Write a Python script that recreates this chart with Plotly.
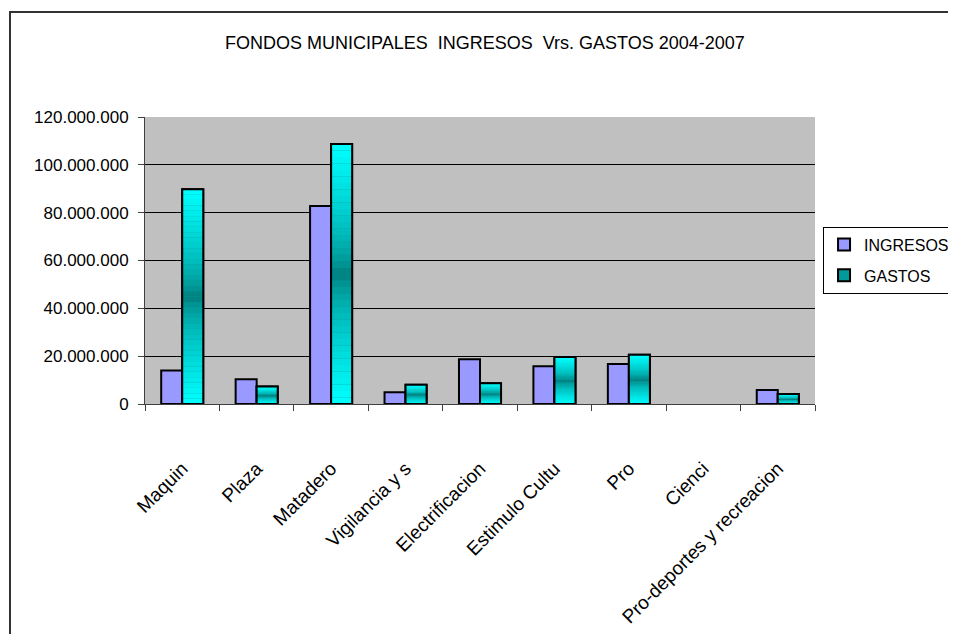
import plotly.graph_objects as go

categories = ["Maquin", "Plaza", "Matadero", "Vigilancia y s", "Electrificacion",
              "Estimulo Cultu", "Pro", "Cienci", "Pro-deportes y recreacion"]
ingresos = [14.0e6, 10.4e6, 82.8e6, 4.9e6, 18.7e6, 15.8e6, 16.7e6, 0, 5.9e6]
gastos = [89.8e6, 7.3e6, 108.7e6, 8.0e6, 8.7e6, 19.7e6, 20.6e6, 0, 4.2e6]
title_text = "FONDOS MUNICIPALES  INGRESOS  Vrs. GASTOS 2004-2007"

FONT = "Arial, Liberation Sans, sans-serif"
N = 40  # gradient slices


def grad_color(t):
    # t: 0 bottom .. 1 top; dark teal in the middle, cyan at both ends
    d = abs(2 * t - 1) ** 0.6
    dark = (0, 118, 118)
    light = (0, 255, 255)
    c = [round(dark[i] + (light[i] - dark[i]) * d) for i in range(3)]
    return "rgb(%d,%d,%d)" % tuple(c)


def nz(vals):
    return [v if v else None for v in vals]


fig = go.Figure()

fig.add_trace(go.Bar(
    x=categories, y=nz(ingresos), name="INGRESOS", offsetgroup="ing", legendgroup="a",
    marker=dict(color="#9999FF", line=dict(color="black", width=2)),
))

# base GASTOS bar (legend entry)
fig.add_trace(go.Bar(
    x=categories, y=nz(gastos), name="GASTOS", offsetgroup="gas", legendgroup="b",
    marker=dict(color="#009A9A", line=dict(color="black", width=2)),
))

# gradient slices
for k in range(N):
    t = (k + 0.5) / N
    fig.add_trace(go.Bar(
        x=categories, y=nz([v / N for v in gastos]), base=[v * k / N for v in gastos],
        offsetgroup="gas", showlegend=False, hoverinfo="skip", legendgroup="b",
        marker=dict(color=grad_color(t), line=dict(width=0)),
    ))

# outline on top
fig.add_trace(go.Bar(
    x=categories, y=nz(gastos), offsetgroup="gas", showlegend=False, hoverinfo="skip",
    legendgroup="b",
    marker=dict(color="rgba(0,0,0,0)", line=dict(color="black", width=2)),
))

# outer chart-area frame (left and top edges; the rest lies off the page)
frame_path = "M -0.2015,-1.5 L -0.2015,1.366 L 1.3,1.366"

fig.update_layout(
    width=940, height=626,
    margin=dict(l=137, r=133, t=109, b=230, autoexpand=False),
    paper_bgcolor="white", plot_bgcolor="#C0C0C0",
    barmode="group", bargap=0.435, bargroupgap=0,
    separators=",.",
    font=dict(family=FONT, color="black", size=17),
    title=dict(text=title_text, x=0.5074, xanchor="center", y=0.944, yanchor="middle",
               yref="container", font=dict(family=FONT, size=18, color="black")),
    legend=dict(x=1.012, y=0.618, xanchor="left", yanchor="top",
                bordercolor="black", borderwidth=1, bgcolor="white",
                font=dict(family=FONT, size=16, color="black"),
                tracegroupgap=7),
    showlegend=True,
    shapes=[dict(type="path", xref="paper", yref="paper", path=frame_path,
                 line=dict(color="#333333", width=2), layer="below")],
)

fig.update_yaxes(
    range=[0, 120e6], dtick=20e6, tickformat=",d",
    showgrid=True, gridcolor="black", gridwidth=1,
    showline=True, linecolor="#404040", linewidth=1,
    ticks="outside", ticklen=6, tickcolor="#404040",
    zeroline=False, tickfont=dict(family=FONT, size=17, color="black"),
    ticklabelstandoff=6,
)
fig.update_xaxes(
    showline=True, linecolor="#404040", linewidth=1,
    ticks="outside", ticklen=6, tickcolor="#404040", tickson="boundaries",
    tickangle=-45, tickfont=dict(family=FONT, size=19, color="black"),
    ticklabelstandoff=45,
)

fig.write_html("out.html")
